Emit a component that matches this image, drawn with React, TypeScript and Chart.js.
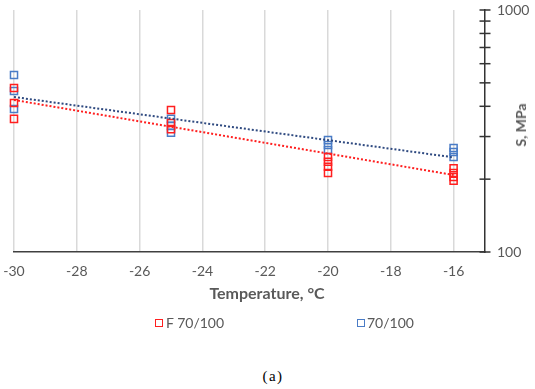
import React, { useEffect, useRef } from 'react';
import { Chart, registerables } from 'chart.js';

Chart.register(...registerables);

// ---- data ----
const xMin = -30;
const xMax = -15;
const xStep = 2;
const yMin = 100;
const yMax = 1000;
const yTickValues = [100, 200, 300, 400, 500, 600, 700, 800, 900, 1000];
const yLabelValues = [100, 1000];

const fTemps = [-30, -30, -30, -25, -25, -25, -20, -20, -20, -20, -16, -16, -16, -16];
const fStrength = [476, 413, 355, 386, 341, 322, 247, 236, 225, 212, 222, 212, 204, 197];

const bTemps = [-30, -30, -30, -25, -25, -25, -20, -20, -20, -16, -16, -16];
const bStrength = [539, 463, 390, 355, 332, 311, 290, 277, 264, 269, 259, 247];

const trendTemps = [-30, -16];
const fTrend = [425, 208];
const bTrend = [437, 246];

const seriesNames = ['F 70/100', '70/100'];
const xTitle = 'Temperature, °C';
const yTitle = 'S, MPa';
const caption = '(a)';

const RED = '#FF1F1F';
const BLUE = '#4A7CC6';
const NAVY = '#2F4A80';
const TEXT = '#595959';
const FONT = 'Lato, "Open Sans", sans-serif';

const crossTicks = {
  id: 'crossTicks',
  afterDraw(chart: any) {
    const s = chart.scales.y;
    const ctx = chart.ctx;
    ctx.save();
    ctx.strokeStyle = '#333333';
    ctx.lineWidth = 1.5;
    s.ticks.forEach((t: any) => {
      const py = s.getPixelForValue(t.value);
      ctx.beginPath();
      ctx.moveTo(s.left - 5.5, py);
      ctx.lineTo(s.left + 5.5, py);
      ctx.stroke();
    });
    ctx.restore();
  },
};

export default function App() {
  const ref = useRef<HTMLCanvasElement | null>(null);

  useEffect(() => {
    document.body.style.margin = '0';
    const canvas = ref.current;
    if (!canvas) return;
    const zip = (xs: number[], ys: number[]) => xs.map((x, i) => ({ x, y: ys[i] }));
    const chart = new Chart(canvas, {
      type: 'scatter',
      data: {
        datasets: [
          {
            label: seriesNames[1] + ' trend',
            data: zip(trendTemps, bTrend),
            showLine: true,
            borderColor: NAVY,
            borderWidth: 2,
            borderDash: [2, 2],
            pointRadius: 0,
            clip: false,
          } as any,
          {
            label: seriesNames[0] + ' trend',
            data: zip(trendTemps, fTrend),
            showLine: true,
            borderColor: RED,
            borderWidth: 2,
            borderDash: [2, 2],
            pointRadius: 0,
            clip: false,
          },
          {
            label: seriesNames[0],
            data: zip(fTemps, fStrength),
            pointStyle: 'rect',
            pointRadius: 5,
            borderColor: RED,
            borderWidth: 1.5,
            backgroundColor: 'rgba(0,0,0,0)',
            clip: false,
          },
          {
            label: seriesNames[1],
            data: zip(bTemps, bStrength),
            pointStyle: 'rect',
            pointRadius: 5,
            borderColor: BLUE,
            borderWidth: 1.5,
            backgroundColor: 'rgba(0,0,0,0)',
            clip: false,
          },
        ],
      },
      options: {
        responsive: false,
        animation: false,
        layout: { padding: { left: 14, top: 10, right: 0, bottom: 0 } },
        plugins: {
          legend: { display: false },
          tooltip: { enabled: false },
        },
        scales: {
          x: {
            type: 'linear',
            min: xMin,
            max: xMax,
            afterFit: (s: any) => {
              s.height = 48;
              s.paddingLeft = 0;
              s.paddingRight = 0;
            },
            ticks: {
              stepSize: xStep,
              includeBounds: false,
              color: TEXT,
              padding: 11,
              font: { family: FONT, size: 14 },
            },
            grid: {
              color: '#D9D9D9',
              lineWidth: 1.5,
              drawTicks: false,
            },
            border: { display: true, color: '#404040', width: 1.5 },
          },
          y: {
            type: 'logarithmic',
            position: 'right',
            min: yMin,
            max: yMax,
            afterBuildTicks: (s: any) => {
              s.ticks = yTickValues.map((v) => ({ value: v }));
            },
            afterFit: (s: any) => {
              s.width = 50;
              s.paddingTop = 0;
              s.paddingBottom = 0;
            },
            ticks: {
              autoSkip: false,
              color: TEXT,
              padding: 12,
              font: { family: FONT, size: 14 },
              callback: (v: any) => (yLabelValues.includes(Number(v)) ? String(v) : ''),
            },
            grid: { display: false, drawTicks: false },
            border: { display: true, color: '#333333', width: 1.5 },
          },
        },
      },
      plugins: [crossTicks],
    });
    return () => chart.destroy();
  }, []);

  const textStyle: React.CSSProperties = {
    position: 'absolute',
    fontFamily: FONT,
    color: TEXT,
    fontSize: 14,
    lineHeight: '16px',
    whiteSpace: 'nowrap',
  };

  return (
    <div style={{ position: 'absolute', left: 0, top: 0, width: 535, height: 389, background: '#fff', overflow: 'hidden' }}>
      <canvas ref={ref} width={535} height={300} style={{ position: 'absolute', left: 0, top: 0, width: 535, height: 300 }} />
      <div style={{ ...textStyle, fontSize: 16, lineHeight: '18px', fontWeight: 'bold', left: 267, top: 284, transform: 'translateX(-50%)' }}>{xTitle}</div>
      <div
        style={{
          ...textStyle,
          fontWeight: 'bold',
          left: 521,
          top: 125,
          transform: 'translate(-50%, -50%) rotate(-90deg)',
        }}
      >
        {yTitle}
      </div>
      <div style={{ position: 'absolute', left: 155, top: 319, width: 6, height: 6, border: `1.5px solid ${RED}` }} />
      <div style={{ ...textStyle, left: 166, top: 315 }}>{seriesNames[0]}</div>
      <div style={{ position: 'absolute', left: 357, top: 319, width: 6, height: 6, border: `1.5px solid ${BLUE}` }} />
      <div style={{ ...textStyle, left: 367, top: 315 }}>{seriesNames[1]}</div>
      <div
        style={{
          position: 'absolute',
          left: 273,
          top: 367,
          transform: 'translateX(-50%)',
          fontFamily: '"Liberation Serif", "DejaVu Serif", serif',
          fontSize: 15,
          letterSpacing: '1.5px',
          lineHeight: '18px',
          color: '#000',
        }}
      >
        {caption}
      </div>
    </div>
  );
}
